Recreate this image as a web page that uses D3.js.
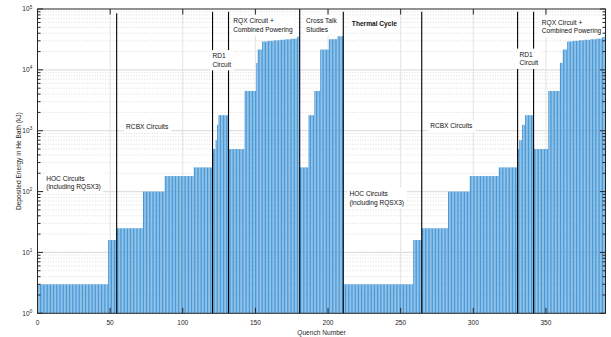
<!DOCTYPE html>
<html>
<head>
<meta charset="utf-8">
<script src="https://cdn.jsdelivr.net/npm/d3@7"></script>
<style>
  body { margin: 0; background: #fff; }
  svg { display: block; font-family: "Liberation Sans", Arial, sans-serif; }
</style>
</head>
<body>
<svg id="chart"></svg>
<script>
// energy runs: [number of quenches, deposited energy in kJ]
const hocRuns = [[48, 3], [6, 16]];
const rcbxRuns = [[18, 25], [15, 100], [20, 180], [13, 250]];
const rd1Runs = [[2, 500], [1, 700], [1, 1250], [7, 1800]];
const rqxRuns = [[11, 500], [8, 4500], [1, 13000], [3, 21600], [4, 29300], [4, 30000], [4, 30600], [4, 31200], [4, 31800], [4, 32500], [1, 34500], [1, 35700]];
const crossTalkRuns = [[6, 250], [4, 1800], [4, 4500], [6, 21600], [6, 31900], [4, 35700]];
// after the thermal cycle
const rd1RunsB = [[1, 500], [2, 700], [2, 1250], [6, 1800]];
const rqxRunsB = [[10, 500], [8, 4500], [2, 13000], [3, 21600], [4, 29300], [4, 30000], [4, 30600], [4, 31200], [4, 31800], [4, 32500], [1, 34500], [1, 35700]];

const campaign = [hocRuns, rcbxRuns, rd1Runs, rqxRuns, crossTalkRuns, hocRuns, rcbxRuns, rd1RunsB, rqxRunsB];

// circuit boundaries (quench number) and how high the marker line goes
const boundaries = [54.5, 120.5, 131.5, 180.5, 210.5, 264.5, 330.5, 341.5];
const boundaryTops = [8.5e4, 9e4, 9e4, 1e5, 9e4, 9e4, 9e4, 9e4];

const xTicks = [0, 50, 100, 150, 200, 250, 300, 350];
const yExponents = [0, 1, 2, 3, 4, 5];

const labels = [
  {lines: ['HOC Circuits', '(including RQSX3)'], q: 6, e: 140},
  {lines: ['RCBX Circuits'], q: 61, e: 1150},
  {lines: ['RD1', 'Circuit'], q: 120.4, e: 14400},
  {lines: ['RQX Circuit +', 'Combined Powering'], q: 134.8, e: 53600},
  {lines: ['Cross Talk', 'Studies'], q: 184.9, e: 54600},
  {lines: ['Thermal Cycle'], q: 216.4, e: 57300, bold: true},
  {lines: ['HOC Circuits', '(including RQSX3)'], q: 214.7, e: 78},
  {lines: ['RCBX Circuits'], q: 270.3, e: 1195},
  {lines: ['RD1', 'Circuit'], q: 331.8, e: 15200},
  {lines: ['RQX Circuit +', 'Combined Powering'], q: 347.2, e: 51200}
];

const W = 611, H = 337;
const axisColor = '#262626';
const fs = 6.6;

const bars = [];
campaign.forEach(runs => runs.forEach(([n, v]) => {
  for (let i = 0; i < n; i++) bars.push({q: bars.length + 1, e: v});
}));

const x = d3.scaleLinear().domain([0, 391]).range([37.5, 605.5]);
const y = d3.scaleLog().domain([1, 1e5]).range([313.3, 9]);

const svg = d3.select('#chart').attr('width', W).attr('height', H);

// grid
const minor = [];
yExponents.slice(0, -1).forEach(k => { for (let m = 2; m <= 9; m++) minor.push(m * Math.pow(10, k)); });

svg.append('g')
  .selectAll('line')
  .data(minor)
  .join('line')
    .attr('x1', x.range()[0]).attr('x2', x.range()[1])
    .attr('y1', d => y(d)).attr('y2', d => y(d))
    .attr('stroke', '#cfcfcf')
    .attr('stroke-width', 0.7)
    .attr('stroke-dasharray', '1,1.6');

svg.append('g')
  .selectAll('line')
  .data(yExponents.slice(1, -1).map(k => Math.pow(10, k)))
  .join('line')
    .attr('x1', x.range()[0]).attr('x2', x.range()[1])
    .attr('y1', d => y(d)).attr('y2', d => y(d))
    .attr('stroke', '#e0e0e0')
    .attr('stroke-width', 1.3);

svg.append('g')
  .selectAll('line')
  .data(xTicks.slice(1))
  .join('line')
    .attr('x1', d => x(d)).attr('x2', d => x(d))
    .attr('y1', y.range()[0]).attr('y2', y.range()[1])
    .attr('stroke', '#e3e3e3')
    .attr('stroke-width', 1);

// bars
const bw = (x(0.8) - x(0));
svg.append('g')
  .attr('fill', '#4a9ad8')
  .selectAll('rect')
  .data(bars)
  .join('rect')
    .attr('x', d => x(d.q) - bw / 2)
    .attr('width', bw)
    .attr('y', d => y(d.e))
    .attr('height', d => y(1) - y(d.e));

// boundaries
svg.append('g')
  .selectAll('line')
  .data(boundaries)
  .join('line')
    .attr('x1', d => x(d)).attr('x2', d => x(d))
    .attr('y1', y(1))
    .attr('y2', (d, i) => y(boundaryTops[i]))
    .attr('stroke', '#000')
    .attr('stroke-width', 1.1);

// annotations with white boxes
const lh = 8.7;
const ann = svg.append('g').attr('font-size', fs).attr('fill', '#111');
labels.forEach(l => {
  const g = ann.append('g');
  const top = y(l.e) - (l.lines.length * lh) / 2;
  const t = g.append('text')
    .attr('font-weight', l.bold ? 'bold' : null);
  l.lines.forEach((s, i) => t.append('tspan')
    .attr('x', x(l.q))
    .attr('y', top + lh * i + lh / 2 + fs * 0.35)
    .text(s));
  const b = t.node().getBBox();
  g.insert('rect', 'text')
    .attr('x', b.x - 2.5).attr('y', top - 1.5)
    .attr('width', b.width + 5).attr('height', l.lines.length * lh + 3)
    .attr('fill', '#fff');
});

// frame + ticks
const frame = svg.append('g').attr('stroke', axisColor).attr('fill', 'none');
frame.append('rect')
  .attr('x', x.range()[0]).attr('y', y.range()[1])
  .attr('width', x.range()[1] - x.range()[0])
  .attr('height', y.range()[0] - y.range()[1])
  .attr('stroke-width', 1);

const tl = 5.5, tm = 3;
xTicks.slice(1).forEach(v => {
  frame.append('line').attr('x1', x(v)).attr('x2', x(v)).attr('y1', y(1)).attr('y2', y(1) - tl);
  frame.append('line').attr('x1', x(v)).attr('x2', x(v)).attr('y1', y(1e5)).attr('y2', y(1e5) + tl);
});
yExponents.map(k => Math.pow(10, k)).forEach(v => {
  frame.append('line').attr('x1', x(0)).attr('x2', x(0) + tl).attr('y1', y(v)).attr('y2', y(v));
  frame.append('line').attr('x1', x(391)).attr('x2', x(391) - tl).attr('y1', y(v)).attr('y2', y(v));
});
minor.forEach(v => {
  frame.append('line').attr('x1', x(0)).attr('x2', x(0) + tm).attr('y1', y(v)).attr('y2', y(v));
  frame.append('line').attr('x1', x(391)).attr('x2', x(391) - tm).attr('y1', y(v)).attr('y2', y(v));
});

// tick labels
svg.append('g')
  .attr('font-size', fs).attr('fill', axisColor).attr('text-anchor', 'middle')
  .selectAll('text')
  .data(xTicks)
  .join('text')
    .attr('x', d => x(d))
    .attr('y', 325.2)
    .text(d => d);

svg.append('g')
  .attr('font-size', fs).attr('fill', axisColor).attr('text-anchor', 'end')
  .selectAll('text')
  .data(yExponents)
  .join('text')
    .attr('x', 32.2)
    .attr('y', d => y(Math.pow(10, d)) + fs * 0.35)
    .call(t => t.append('tspan').text('10'))
    .call(t => t.append('tspan').attr('dy', -2.8).attr('font-size', 4.6).text(d => d));

svg.append('text')
  .attr('x', x(195.5)).attr('y', 334.5)
  .attr('font-size', fs).attr('fill', axisColor).attr('text-anchor', 'middle')
  .text('Quench Number');

svg.append('text')
  .attr('transform', `translate(20.5, ${(y(1) + y(1e5)) / 2}) rotate(-90)`)
  .attr('font-size', fs).attr('fill', axisColor).attr('text-anchor', 'middle')
  .text('Deposited Energy in He Bath (kJ)');
</script>
</body>
</html>
